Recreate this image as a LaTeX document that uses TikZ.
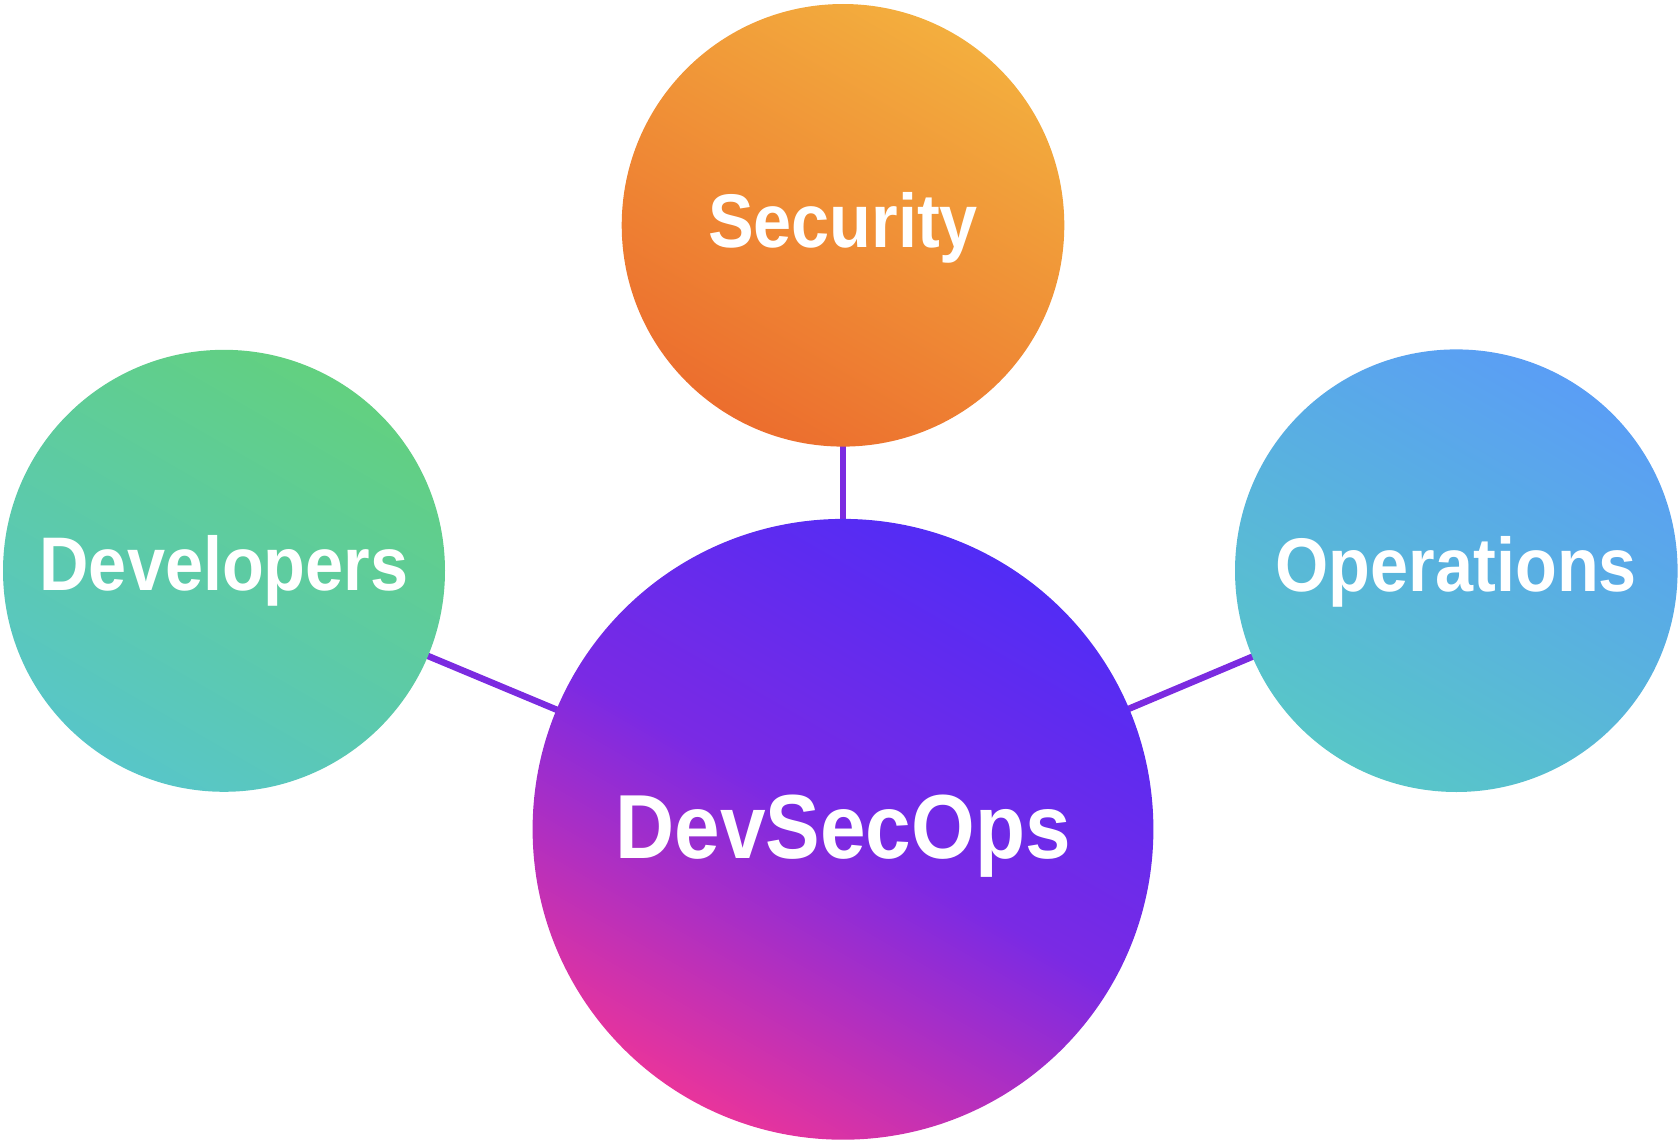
\documentclass[tikz,border=0pt]{standalone}
\usepackage{fontspec}
\newfontfamily\lblfont[FakeStretch=0.9]{Liberation Sans}
\definecolor{secA}{RGB}{243,174,62}
\definecolor{secB}{RGB}{236,110,46}
\definecolor{devA}{RGB}{98,208,128}
\definecolor{devB}{RGB}{88,198,200}
\definecolor{opsA}{RGB}{90,158,245}
\definecolor{opsB}{RGB}{88,198,200}
\definecolor{dsoA}{RGB}{82,44,245}
\definecolor{dsoM}{RGB}{122,42,228}
\definecolor{dsoB}{RGB}{232,52,156}
\definecolor{linkc}{RGB}{123,43,224}
\usetikzlibrary{backgrounds}
\begin{document}
\begin{tikzpicture}[x=1pt,y=-1pt,
  bubble/.style={circle, inner sep=0pt, text=white, font=\lblfont\bfseries\fontsize{76}{80}\selectfont},
  grad/.style n args={2}{top color=#1, bottom color=#2, shading angle=-30},
  link/.style={line width=6.5pt, draw=linkc}]
\useasboundingbox (0,0) rectangle (1679,1142);
\node[bubble, grad={secA}{secB}, minimum size=442.6pt, text height=60pt, text depth=16.4pt] (sec) at (843,225.3) {Security};
\node[bubble, grad={devA}{devB}, minimum size=442pt, text height=60pt, text depth=20pt] (dev) at (224,570.8) {Developers};
\node[bubble, grad={opsA}{opsB}, minimum size=442.6pt, text height=60pt, text depth=19pt] (ops) at (1456.3,570.7) {Operations};
\node[bubble, top color=dsoA, bottom color=dsoB, middle color=dsoM, shading angle=-30, minimum size=620.8pt, text height=68pt, text depth=9pt, font=\lblfont\bfseries\fontsize{91}{95}\selectfont] (dso) at (843,829.3) {DevSecOps};
\begin{pgfonlayer}{background}
\draw[link] (sec.center) -- (dso.center);
\draw[link] (dev.center) -- (dso.center);
\draw[link] (ops.center) -- (dso.center);
\end{pgfonlayer}
\end{tikzpicture}
\end{document}
